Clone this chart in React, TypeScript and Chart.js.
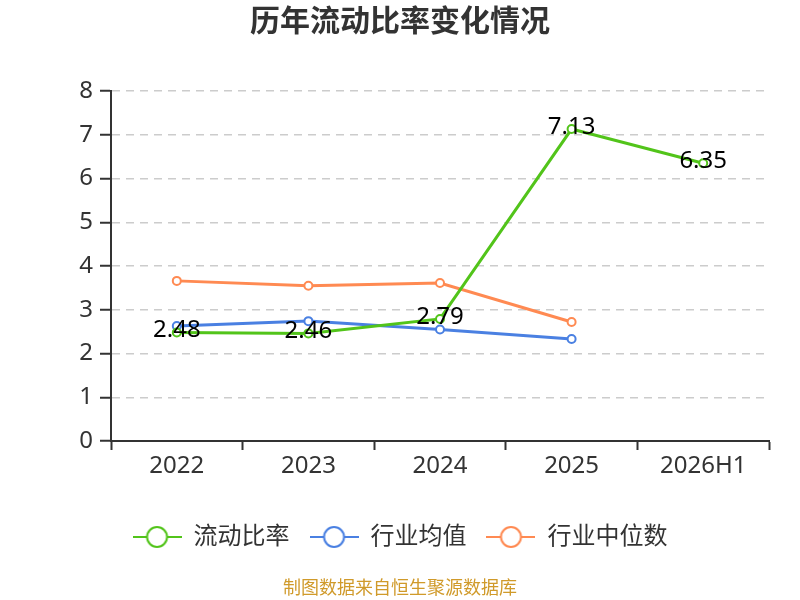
import React, { useEffect, useRef } from "react";
import { Chart, registerables } from "chart.js";

Chart.register(...registerables);

const categories = ["2022", "2023", "2024", "2025", "2026H1"];
const currentRatio = [2.48, 2.46, 2.79, 7.13, 6.35];
const industryMean = [2.63, 2.74, 2.55, 2.33, null];
const industryMedian = [3.66, 3.55, 3.61, 2.72, null];
const yTicks = [0, 1, 2, 3, 4, 5, 6, 7, 8];

const seriesNames = ["流动比率", "行业均值", "行业中位数"];
const seriesColors = ["#52c41a", "#4a80e2", "#ff8a52"];

const titleText = "历年流动比率变化情况";
const sourceText = "制图数据来自恒生聚源数据库";

const FONT = "'Noto Sans', 'Noto Sans CJK SC', sans-serif";

function makeIcon(color: string): HTMLCanvasElement {
  const c = document.createElement("canvas");
  c.width = 49;
  c.height = 24;
  const ctx = c.getContext("2d")!;
  ctx.strokeStyle = color;
  ctx.lineWidth = 2;
  ctx.beginPath();
  ctx.moveTo(0, 12);
  ctx.lineTo(49, 12);
  ctx.stroke();
  ctx.beginPath();
  ctx.arc(24.5, 12, 10, 0, Math.PI * 2);
  ctx.fillStyle = "#fff";
  ctx.fill();
  ctx.stroke();
  return c;
}

export default function App() {
  const ref = useRef<HTMLCanvasElement | null>(null);

  useEffect(() => {
    document.body.style.margin = "0";
    const icons = seriesColors.map(makeIcon);

    const dataLabels = {
      id: "dataLabels",
      afterDatasetsDraw(chart: any) {
        const ctx = chart.ctx;
        const meta = chart.getDatasetMeta(0);
        ctx.save();
        ctx.font = `24px ${FONT}`;
        ctx.fillStyle = "#000";
        ctx.textAlign = "center";
        ctx.textBaseline = "middle";
        meta.data.forEach((pt: any, i: number) => {
          const v = currentRatio[i];
          if (v == null) return;
          ctx.fillText(v.toFixed(2), pt.x, pt.y - 2);
        });
        ctx.restore();
      },
    };

    const fixBoxes = {
      id: "fixBoxes",
      afterLayout(chart: any) {
        chart.boxes.forEach((b: any) => {
          const t = b.options && b.options.text;
          if (t === titleText || t === sourceText || b === chart.legend) {
            b.left = 0;
            b.right = 800;
            b.width = 800;
          }
        });
      },
    };

    const mk = (i: number, data: (number | null)[]) => ({
      label: seriesNames[i],
      data,
      borderColor: seriesColors[i],
      backgroundColor: "#fff",
      borderWidth: 3,
      pointRadius: 4,
      pointBorderWidth: 2,
      pointBackgroundColor: "#fff",
      pointBorderColor: seriesColors[i],
      tension: 0,
      spanGaps: false,
    });

    const chart = new Chart(ref.current!, {
      type: "line",
      data: {
        labels: categories,
        datasets: [mk(0, currentRatio), mk(1, industryMean), mk(2, industryMedian)],
      },
      plugins: [dataLabels, fixBoxes],
      options: {
        animation: false,
        responsive: false,
        layout: { padding: { left: 0, right: 31, top: 0, bottom: 0 } },
        plugins: {
          title: {
            display: true,
            text: titleText,
            color: "#333",
            font: { family: FONT, size: 30, weight: "bold" },
            padding: { top: 4, bottom: 51 },
          },
          subtitle: {
            display: true,
            position: "bottom",
            text: sourceText,
            color: "#d09a2a",
            font: { family: FONT, size: 18 },
            padding: { top: 19.2, bottom: 0.2 },
          },
          legend: {
            position: "bottom",
            labels: {
              usePointStyle: true,
              pointStyleWidth: 49,
              padding: 20,
              color: "#333",
              font: { family: FONT, size: 24 },
              generateLabels: (c: any) =>
                (Chart.defaults.plugins.legend.labels as any)
                  .generateLabels(c)
                  .map((l: any, i: number) => ({ ...l, pointStyle: icons[i] })),
            },
          },
          tooltip: { enabled: false },
        },
        scales: {
          x: {
            offset: true,
            grid: {
              offset: true,
              drawOnChartArea: false,
              drawTicks: true,
              tickLength: 9,
              tickColor: "#333",
              tickWidth: 2,
            },
            border: { display: true, color: "#333", width: 2 },
            ticks: { color: "#333", font: { family: FONT, size: 24 }, padding: 2 },
            afterFit: (s: any) => {
              s.height = 64;
            },
          },
          y: {
            min: 0,
            max: 8,
            afterBuildTicks: (s: any) => {
              s.ticks = yTicks.map((v) => ({ value: v }));
            },
            grid: {
              color: "#cccccc",
              lineWidth: 1.5,
              drawTicks: true,
              tickLength: 11,
              tickColor: "#333",
              tickWidth: 2,
              tickBorderDash: [],
            },
            border: { display: true, color: "#333", width: 2, dash: [8, 6] },
            ticks: { color: "#333", font: { family: FONT, size: 24 }, padding: 7 },
            afterFit: (s: any) => {
              s.width = 111;
            },
          },
        },
      } as any,
    });
    return () => chart.destroy();
  }, []);

  return (
    <div style={{ width: 800, height: 600 }}>
      <canvas ref={ref} width={800} height={600} style={{ width: 800, height: 600, display: "block" }} />
    </div>
  );
}
